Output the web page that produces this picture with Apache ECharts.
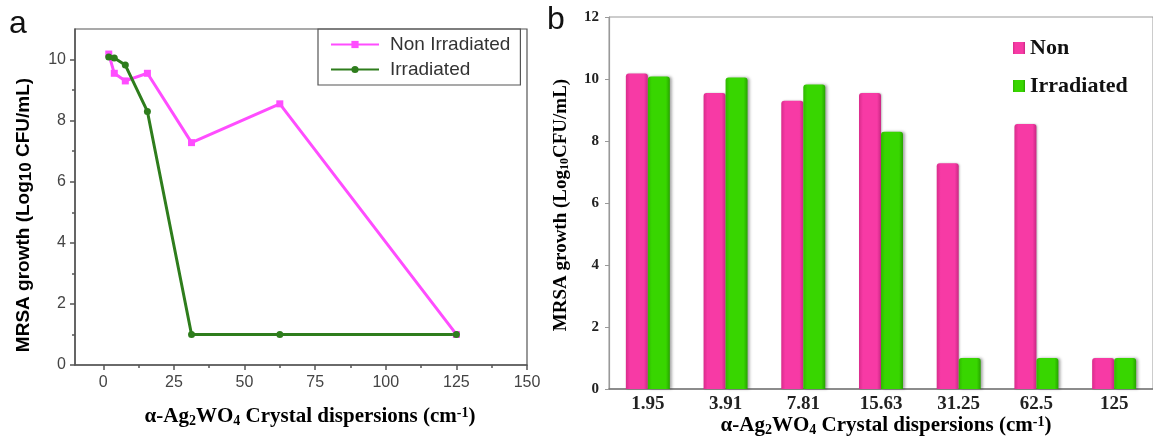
<!DOCTYPE html>
<html>
<head>
<meta charset="utf-8">
<script src="https://cdn.jsdelivr.net/npm/echarts@6/dist/echarts.min.js"></script>
<style>
html,body{margin:0;padding:0;background:#fff;}
#c{width:1153px;height:436px;}
</style>
</head>
<body>
<div id="c"></div>
<script>
// ---- data ----
var concentrations = [1.95, 3.91, 7.81, 15.63, 31.25, 62.5, 125];
var categoryLabels = ['1.95', '3.91', '7.81', '15.63', '31.25', '62.5', '125'];
var nonIrradiated = [10.18, 9.55, 9.3, 9.55, 7.28, 8.55, 1.0];
var irradiated = [10.08, 10.05, 9.82, 8.3, 1.0, 1.0, 1.0];
var xTicksA = [0, 25, 50, 75, 100, 125, 150];
var xMinorA = [12.5, 37.5, 62.5, 87.5, 112.5, 137.5];
var yTicksA = [0, 2, 4, 6, 8, 10];
var yMinorA = [1, 3, 5, 7, 9];

function pairs(xs, ys) { return xs.map(function (x, i) { return [x, ys[i]]; }); }

var SANS = '"Liberation Sans", Arial, sans-serif';
var SERIF = '"Liberation Serif", "Times New Roman", serif';
var AX = '#555';

function hgrad(edge, mid, edge2) {
  return new echarts.graphic.LinearGradient(0, 0, 1, 0, [
    {offset: 0, color: edge}, {offset: 0.18, color: mid},
    {offset: 0.82, color: mid}, {offset: 1, color: edge2}
  ]);
}

var chart = echarts.init(document.getElementById('c'), null, {renderer: 'canvas'});

var titleRich = {
  b: {fontFamily: SANS, fontWeight: 'bold', fontSize: 19, color: '#222'},
  s: {fontFamily: SANS, fontWeight: 'bold', fontSize: 17, color: '#222', padding: [4, 0, 0, 0]}
};
var serifRich = {
  b: {fontFamily: SERIF, fontWeight: 'bold', fontSize: 21, color: '#222'},
  sub: {fontFamily: SERIF, fontWeight: 'bold', fontSize: 14, color: '#222', padding: [8, 0, 0, 0]},
  sup: {fontFamily: SERIF, fontWeight: 'bold', fontSize: 14, color: '#222', padding: [0, 0, 8, 0]}
};
var serifRichSmall = {
  b: {fontFamily: SERIF, fontWeight: 'bold', fontSize: 19, color: '#222'},
  sub: {fontFamily: SERIF, fontWeight: 'bold', fontSize: 12, color: '#222', padding: [7, 0, 0, 0]}
};
var xTitleText = '{b|α-Ag}{sub|2}{b|WO}{sub|4}{b| Crystal dispersions (cm}{sup|-1}{b|)}';

var option = {
  animation: false,
  backgroundColor: '#fff',
  grid: [
    {left: 75, top: 29, width: 452, height: 336, show: true, borderColor: AX, borderWidth: 1.2, backgroundColor: 'transparent'},
    {left: 609, top: 17, right: -12, bottom: 47, show: true, borderColor: '#999', borderWidth: 1, backgroundColor: 'transparent'}
  ],
  legend: [
    {
      orient: 'vertical', left: 318, top: 29,
      data: ['Non Irradiated', 'Irradiated'],
      borderColor: AX, borderWidth: 1.2,
      padding: [6, 10, 6, 12],
      itemWidth: 48, itemHeight: 9, itemGap: 6,
      textStyle: {fontFamily: SANS, fontSize: 19, color: '#333', padding: [0, 0, 0, 6]}
    },
    {
      orient: 'vertical', left: 1008, top: 32,
      data: ['bNon', 'bIrr'],
      icon: 'rect', itemWidth: 12, itemHeight: 12, itemGap: 16,
      formatter: function (n) { return n === 'bNon' ? 'Non' : 'Irradiated'; },
      textStyle: {fontFamily: SERIF, fontWeight: 'bold', fontSize: 22, color: '#111'}
    }
  ],
  xAxis: [
    {
      gridIndex: 0, type: 'value', min: -10, max: 150, position: 'bottom',
      axisLine: {onZero: false, lineStyle: {color: AX, width: 1.5}},
      axisTick: {show: true, length: 5, customValues: xTicksA, lineStyle: {color: AX, width: 1.5}},
      axisLabel: {customValues: xTicksA, fontFamily: SANS, fontSize: 16, color: '#444', margin: 10},
      splitLine: {show: false}
    },
    {
      gridIndex: 0, type: 'value', min: -10, max: 150, position: 'bottom',
      axisLine: {show: false, onZero: false},
      axisTick: {show: true, length: 3, customValues: xMinorA, lineStyle: {color: AX, width: 1.5}},
      axisLabel: {show: false},
      splitLine: {show: false}
    },
    {
      gridIndex: 1, type: 'category', data: categoryLabels,
      axisLine: {lineStyle: {color: '#777', width: 1.5}},
      axisTick: {show: false},
      axisLabel: {fontFamily: SERIF, fontWeight: 'bold', fontSize: 19, color: '#222', margin: 6},
      splitLine: {show: false}
    }
  ],
  yAxis: [
    {
      gridIndex: 0, type: 'value', min: 0, max: 11, position: 'left',
      axisLine: {show: true, onZero: false, lineStyle: {color: AX, width: 1.5}},
      axisTick: {show: true, length: 5, customValues: yTicksA, lineStyle: {color: AX, width: 1.5}},
      axisLabel: {customValues: yTicksA, fontFamily: SANS, fontSize: 16, color: '#444', margin: 9},
      splitLine: {show: false}
    },
    {
      gridIndex: 0, type: 'value', min: 0, max: 11, position: 'left',
      axisLine: {show: false, onZero: false},
      axisTick: {show: true, length: 3, customValues: yMinorA, lineStyle: {color: AX, width: 1.5}},
      axisLabel: {show: false},
      splitLine: {show: false}
    },
    {
      gridIndex: 1, type: 'value', min: 0, max: 12, interval: 2,
      axisLine: {show: true, lineStyle: {color: '#999', width: 1.2}},
      axisTick: {show: true, length: 4, lineStyle: {color: '#999'}},
      axisLabel: {fontFamily: SERIF, fontWeight: 'bold', fontSize: 15, color: '#222', margin: 10},
      splitLine: {show: false}
    }
  ],
  series: [
    {
      name: 'Non Irradiated', type: 'line', xAxisIndex: 0, yAxisIndex: 0,
      data: pairs(concentrations, nonIrradiated),
      symbol: 'rect', symbolSize: 7,
      lineStyle: {color: '#ff4dff', width: 3},
      itemStyle: {color: '#ff4dff'}
    },
    {
      name: 'Irradiated', type: 'line', xAxisIndex: 0, yAxisIndex: 0,
      data: pairs(concentrations, irradiated),
      symbol: 'circle', symbolSize: 7,
      lineStyle: {color: '#2e7d1c', width: 3},
      itemStyle: {color: '#2e7d1c'}
    },
    {
      name: 'bNon', type: 'bar', xAxisIndex: 2, yAxisIndex: 2,
      data: nonIrradiated, barWidth: 22, barGap: '0%',
      itemStyle: {color: hgrad('#d92c8c', '#f73aa5', '#c92783'), borderRadius: [3, 3, 0, 0], shadowColor: 'rgba(0,0,0,0.25)', shadowBlur: 2, shadowOffsetX: 1}
    },
    {
      name: 'bIrr', type: 'bar', xAxisIndex: 2, yAxisIndex: 2,
      data: irradiated, barWidth: 22, barGap: '0%',
      itemStyle: {color: hgrad('#2fb800', '#38d600', '#27a300'), borderRadius: [3, 3, 0, 0], shadowColor: 'rgba(0,0,0,0.35)', shadowBlur: 3, shadowOffsetX: 2}
    }
  ],
  graphic: [
    {type: 'text', left: 9, top: 8, style: {text: 'a', fontFamily: SANS, fontSize: 32, fill: '#111'}},
    {type: 'text', left: 547, top: 4, style: {text: 'b', fontFamily: SANS, fontSize: 32, fill: '#111'}},
    {type: 'text', x: 24, y: 215, rotation: Math.PI / 2,
      style: {text: '{b|MRSA growth (Log}{s|10}{b| CFU/mL)}', rich: titleRich, align: 'center', verticalAlign: 'middle'}},
    {type: 'text', x: 561, y: 205, rotation: Math.PI / 2,
      style: {text: '{b|MRSA growth (Log}{sub|10}{b|CFU/mL)}', rich: serifRichSmall, align: 'center', verticalAlign: 'middle'}},
    {type: 'text', x: 310, y: 417,
      style: {text: xTitleText, rich: serifRich, align: 'center', verticalAlign: 'middle'}},
    {type: 'text', x: 886, y: 426,
      style: {text: xTitleText, rich: serifRich, align: 'center', verticalAlign: 'middle'}}
  ]
};
chart.setOption(option);
</script>
</body>
</html>
